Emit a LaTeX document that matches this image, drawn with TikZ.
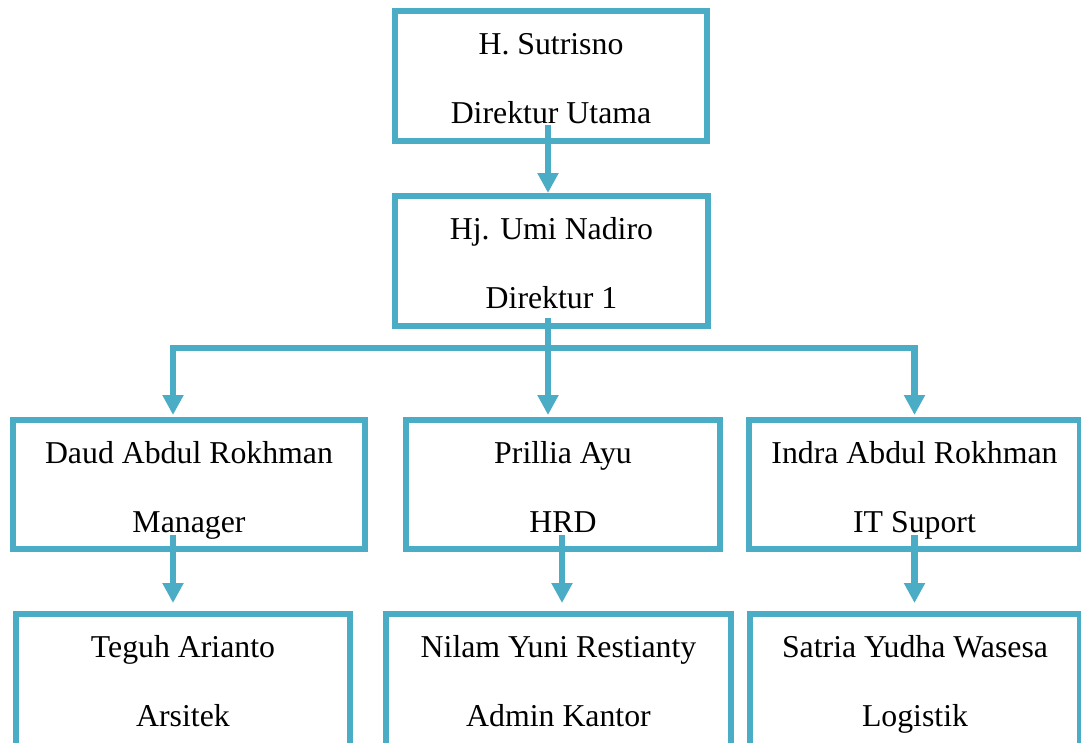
\documentclass[tikz,border=0pt]{standalone}
\usepackage{fontspec}
\setmainfont{Liberation Serif}
\usetikzlibrary{arrows.meta}
\definecolor{orgteal}{RGB}{75,172,198}
\newcommand{\lnstrut}{\rule[-9pt]{0pt}{44pt}}
\tikzset{
  box/.style={draw=orgteal, line width=6pt, rectangle, inner sep=0pt, align=center,
    font=\fontsize{31.8pt}{69pt}\selectfont},
  conn/.style={draw=orgteal, line width=6.5pt, line join=miter},
  arr/.style={conn, -{Triangle[width=20pt,length=20pt]}}
}
\begin{document}
\begin{tikzpicture}[x=1pt,y=-1pt]
\useasboundingbox (0,0) rectangle (1081,742);
\clip (0,0) rectangle (1081,742);
\fill[white] (0,0) rectangle (1081,742);
% row 1 and 2
\node[box, minimum width=312pt, minimum height=130pt] (A) at (551,76) {\lnstrut H. Sutrisno\\\lnstrut Direktur Utama};
\node[box, minimum width=313pt, minimum height=130pt] (B) at (551.5,261) {\lnstrut Hj. Umi Nadiro\\\lnstrut Direktur 1};
% row 3
\node[box, minimum width=352pt, minimum height=129pt] (C1) at (189,484.5) {\lnstrut Daud Abdul Rokhman\\\lnstrut Manager};
\node[box, minimum width=314pt, minimum height=129pt] (C2) at (563,484.5) {\lnstrut Prillia Ayu\\\lnstrut HRD};
\node[box, minimum width=331pt, minimum height=129pt] (C3) at (914.5,484.5) {\lnstrut Indra Abdul Rokhman\\\lnstrut IT Suport};
% row 4 (bottom edge lies below the picture)
\node[box, minimum width=334pt, minimum height=130pt] (D1) at (183,679) {\lnstrut Teguh Arianto\\\lnstrut Arsitek};
\node[box, minimum width=345pt, minimum height=130pt] (D2) at (558.5,679) {\lnstrut Nilam Yuni Restianty\\\lnstrut Admin Kantor};
\node[box, minimum width=330pt, minimum height=130pt] (D3) at (915,679) {\lnstrut Satria Yudha Wasesa\\\lnstrut Logistik};
\fill[white] (0,739) rectangle (1081,750);
\draw[orgteal, line width=6pt] (16,736) -- (16,745) (350,736) -- (350,745)
  (386,736) -- (386,745) (731,736) -- (731,745) (750,736) -- (750,745) (1080,736) -- (1080,745);
% connectors
\draw[arr] ([xshift=-3pt,yshift=19pt]A.south) -- ([xshift=-3.5pt]B.north);
\draw[arr] ([xshift=-3.5pt,yshift=11pt]B.south) -- ([xshift=-15pt,yshift=2pt]C2.north);
\coordinate (hm) at (548,348);
\draw[arr] (hm) -| ([xshift=-16pt,yshift=2pt]C1.north);
\draw[arr] (hm) -| ([yshift=2pt]C3.north);
\draw[arr] ([xshift=-16pt,yshift=17pt]C1.south) -- ([xshift=-10pt,yshift=8pt]D1.north);
\draw[arr] ([xshift=-1pt,yshift=17pt]C2.south) -- ([xshift=3.5pt,yshift=8pt]D2.north);
\draw[arr] ([yshift=17pt]C3.south) -- ([xshift=-0.5pt,yshift=8pt]D3.north);
\end{tikzpicture}
\end{document}
